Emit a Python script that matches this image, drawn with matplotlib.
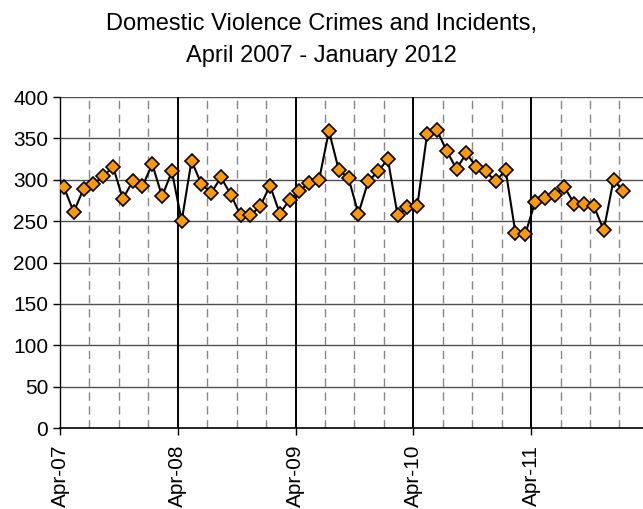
import numpy as np
import matplotlib
matplotlib.use("Agg")
import matplotlib.pyplot as plt

plt.rcParams['font.family'] = ['Liberation Sans', 'DejaVu Sans']

# monthly counts, Apr 2007 .. Jan 2012
counts = [291, 261, 289, 295, 304, 316, 277, 298, 292, 319, 280, 310,
          250, 323, 295, 284, 303, 282, 257, 257, 268, 293, 259, 276,
          287, 296, 300, 359, 312, 302, 259, 298, 310, 325, 257, 267,
          268, 355, 360, 335, 313, 332, 316, 310, 298, 312, 236, 234,
          273, 278, 282, 291, 271, 271, 268, 239, 300, 286]
year_labels = ['Apr-07', 'Apr-08', 'Apr-09', 'Apr-10', 'Apr-11']
y_ticks = [0, 50, 100, 150, 200, 250, 300, 350, 400]

n = len(counts)
x = np.arange(n) + 0.4  # points sit a bit after the month line

fig = plt.figure(figsize=(6.43, 5.09), dpi=100)
ax = fig.add_axes([0.0933, 0.1591, 0.9067, 0.6503])

# gridlines
for v in y_ticks[1:]:
    ax.axhline(v, color='#505050', lw=1, zorder=1)
year_pos = np.arange(0, n, 12)
for m in range(0, 60, 3):
    if m % 12 == 0:
        ax.axvline(m, color='black', lw=1.4, zorder=1)
    else:
        ax.axvline(m, color='#888888', lw=1, ls=(0, (6, 4)), zorder=1)

ax.plot(x, counts, color='black', lw=1.5, marker='D', ms=7,
        markerfacecolor='#FF9900', markeredgecolor='black', markeredgewidth=1.2,
        zorder=3)

ax.set_xlim(0, 59.4)
ax.set_ylim(0, 400)
ax.set_yticks(y_ticks)
ax.set_xticks(year_pos)
ax.set_xticklabels(year_labels, rotation=90)
ax.tick_params(axis='both', labelsize=15, direction='out', length=5, width=1)
ax.tick_params(axis='x', pad=7)

for s in ['top', 'right']:
    ax.spines[s].set_visible(False)
ax.spines['left'].set_linewidth(1)
ax.spines['bottom'].set_linewidth(1.2)

fig.text(0.5, 0.975, 'Domestic Violence Crimes and Incidents,\nApril 2007 - January 2012',
         ha='center', va='top', fontsize=17, linespacing=1.6)

fig.savefig('out.png', dpi=100)
